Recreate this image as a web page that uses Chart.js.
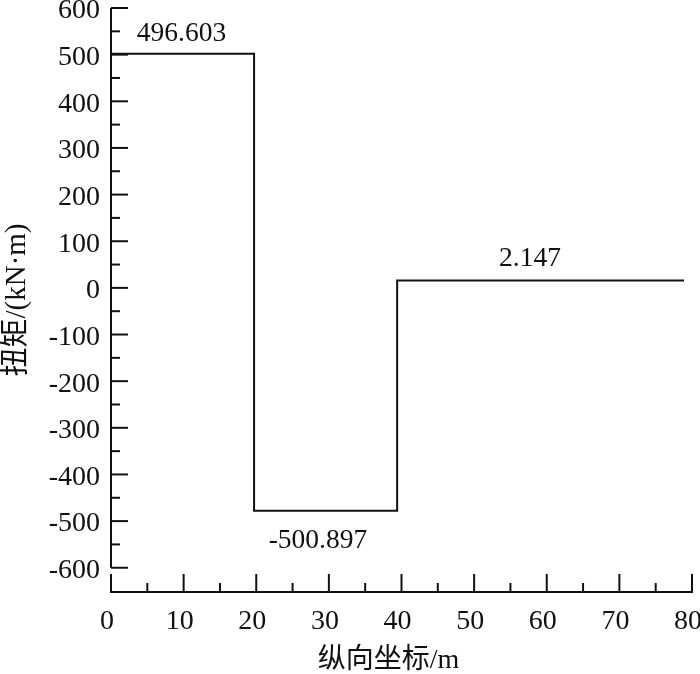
<!DOCTYPE html>
<html>
<head>
<meta charset="utf-8">
<script src="https://cdn.jsdelivr.net/npm/chart.js@4"></script>
<style>
    html, body { margin: 0; padding: 0; background: #fff; }
    #torqueChart { display: block; }
</style>
</head>
<body>
<canvas id="torqueChart" width="700" height="674"></canvas>
<script>
// Dane (schodkowy przebieg momentu skręcającego)
const stepX = [0, 19.7, 39.4, 78.9];
const stepY = [502, -478, 16, 16];

// Etykiety wartości nad/pod odcinkami
const valueLabels = ['496.603', '-500.897', '2.147'];
const valueLabelX = [9.7, 28.5, 57.7];
const valueLabelOffset = [-20, 30, -22]; // px względem linii

// Podziałki osi
const xTicks = [0, 10, 20, 30, 40, 50, 60, 70, 80];
const yTicks = [-600, -500, -400, -300, -200, -100, 0, 100, 200, 300, 400, 500, 600];

const xTitle = '纵向坐标/m';
const yTitle = '扭矩/(kN·m)';

const fontFamily = '"Liberation Serif", "Noto Sans CJK SC", serif';
const ink = '#111';

// Rysowanie osi z podziałkami skierowanymi do wewnątrz (styl jak w oryginale)
const axesPlugin = {
    id: 'axesPlugin',
    afterDraw(chart) {
        const ctx = chart.ctx;
        const xs = chart.scales.x;
        const ys = chart.scales.y;
        const area = chart.chartArea;
        const left = area.left;
        const bottom = area.bottom;

        ctx.save();
        ctx.strokeStyle = ink;
        ctx.lineWidth = 2;
        ctx.lineCap = 'butt';

        // oś Y: od 600 do -600
        const yTop = ys.getPixelForValue(yTicks[yTicks.length - 1]);
        const yBot = ys.getPixelForValue(yTicks[0]);
        ctx.beginPath();
        ctx.moveTo(left, yTop);
        ctx.lineTo(left, yBot);
        ctx.stroke();

        // podziałki osi Y (główne i pośrednie)
        yTicks.forEach((v, i) => {
            const py = ys.getPixelForValue(v);
            ctx.beginPath();
            ctx.moveTo(left, py);
            ctx.lineTo(left + 17, py);
            ctx.stroke();
            if (i < yTicks.length - 1) {
                const pm = ys.getPixelForValue((v + yTicks[i + 1]) / 2);
                ctx.beginPath();
                ctx.moveTo(left, pm);
                ctx.lineTo(left + 9, pm);
                ctx.stroke();
            }
        });

        // oś X
        ctx.beginPath();
        ctx.moveTo(left - 1, bottom);
        ctx.lineTo(xs.getPixelForValue(xTicks[xTicks.length - 1]) + 1, bottom);
        ctx.stroke();

        xTicks.forEach((v, i) => {
            const px = xs.getPixelForValue(v);
            ctx.beginPath();
            ctx.moveTo(px, bottom);
            ctx.lineTo(px, bottom - 18);
            ctx.stroke();
            if (i < xTicks.length - 1) {
                const pm = xs.getPixelForValue((v + xTicks[i + 1]) / 2);
                ctx.beginPath();
                ctx.moveTo(pm, bottom);
                ctx.lineTo(pm, bottom - 9);
                ctx.stroke();
            }
        });

        ctx.fillStyle = ink;
        ctx.textAlign = 'center';
        ctx.textBaseline = 'middle';

        // etykiety wartości
        ctx.font = '27.5px ' + fontFamily;
        valueLabels.forEach((txt, i) => {
            const px = xs.getPixelForValue(valueLabelX[i]);
            const py = ys.getPixelForValue(stepY[i]) + valueLabelOffset[i];
            ctx.fillText(txt, px, py);
        });

        // tytuł osi X (lekko przesunięty w lewo jak w oryginale)
        ctx.font = '28px ' + fontFamily;
        ctx.fillText(xTitle, (area.left + area.right) / 2 - 13, 661);
        ctx.restore();
    }
};

const stepData = stepX.map((x, i) => ({ x: x, y: stepY[i] }));

new Chart(document.getElementById('torqueChart'), {
    type: 'line',
    data: {
        datasets: [{
            data: stepData,
            stepped: 'before',
            borderColor: ink,
            borderWidth: 2,
            pointRadius: 0,
            fill: false
        }]
    },
    options: {
        responsive: false,
        animation: false,
        devicePixelRatio: 1,
        layout: { padding: { top: 8, right: 8, left: 0, bottom: 0 } },
        plugins: {
            legend: { display: false },
            tooltip: { enabled: false }
        },
        scales: {
            x: {
                type: 'linear',
                min: 0,
                max: 80,
                border: { display: false },
                grid: { display: false, drawTicks: false },
                afterBuildTicks: scale => { scale.ticks = xTicks.map(v => ({ value: v })); },
                afterFit: scale => {
                    scale.height = 82;
                    scale.paddingLeft = 0;
                    scale.paddingRight = 0;
                },
                ticks: {
                    color: ink,
                    padding: 13,
                    labelOffset: -4,
                    maxRotation: 0,
                    autoSkip: false,
                    font: { family: fontFamily, size: 28 }
                }
            },
            y: {
                type: 'linear',
                min: -652,
                max: 600,
                border: { display: false },
                grid: { display: false, drawTicks: false },
                afterBuildTicks: scale => { scale.ticks = yTicks.map(v => ({ value: v })); },
                afterFit: scale => {
                    scale.width = 111;
                    scale.paddingTop = 0;
                    scale.paddingBottom = 0;
                },
                ticks: {
                    color: ink,
                    padding: 11,
                    labelOffset: 3,
                    autoSkip: false,
                    font: { family: fontFamily, size: 28 }
                },
                title: {
                    display: true,
                    text: yTitle,
                    color: ink,
                    padding: { top: 0, bottom: 0 },
                    font: { family: fontFamily, size: 29 }
                }
            }
        }
    },
    plugins: [axesPlugin]
});
</script>
</body>
</html>
